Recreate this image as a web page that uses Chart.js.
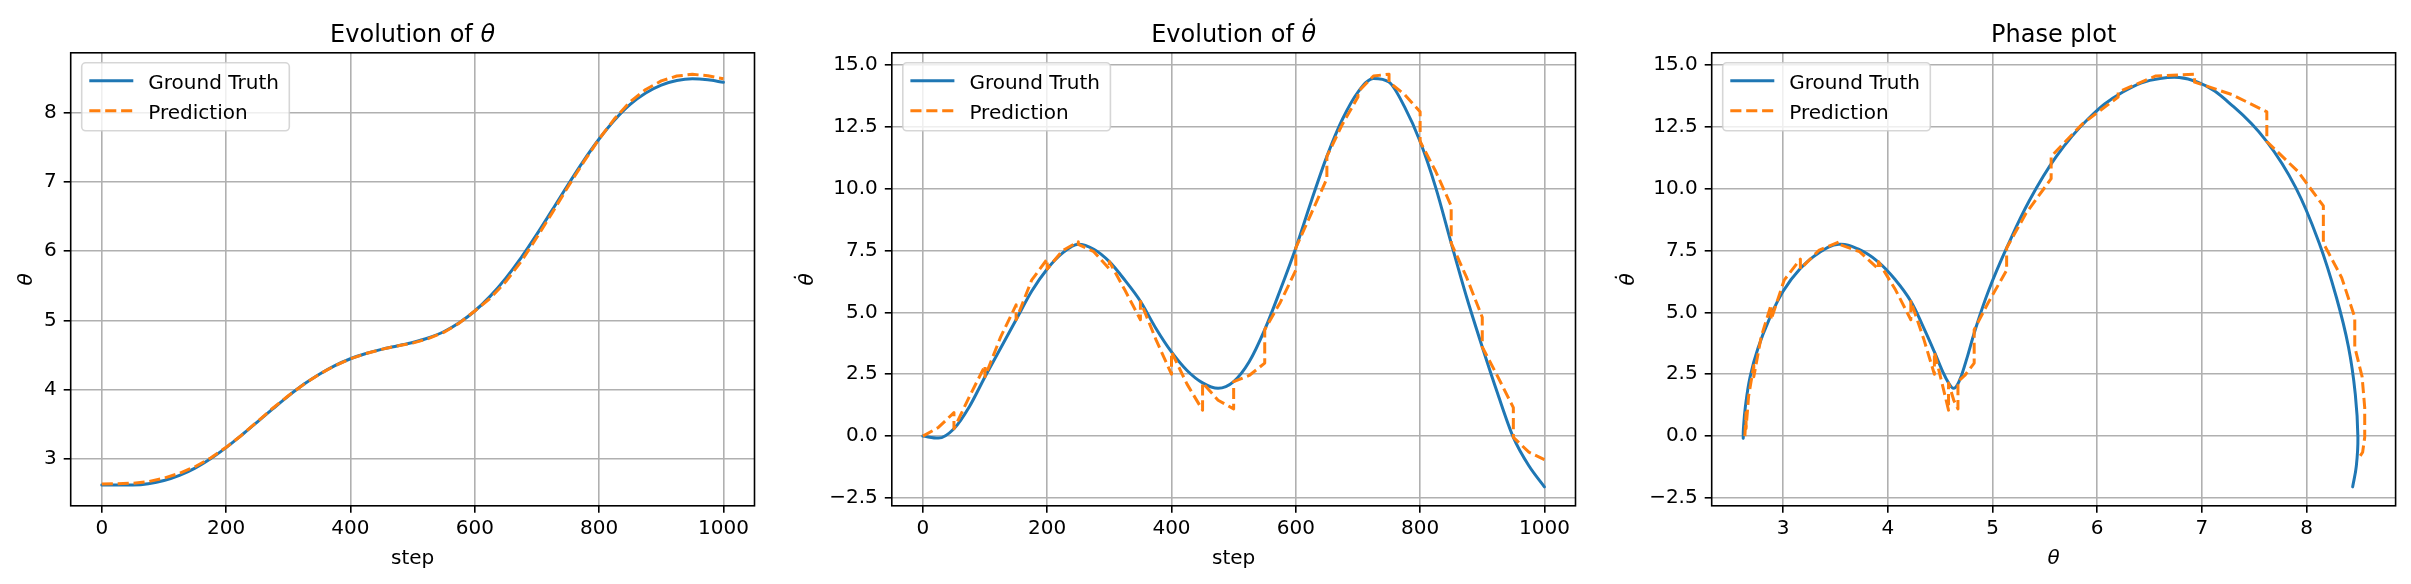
<!DOCTYPE html>
<html>
<head>
<meta charset="utf-8">
<script src="https://cdn.jsdelivr.net/npm/chart.js@4.4.0/dist/chart.umd.min.js"></script>
<style>
  html, body { margin:0; padding:0; background:#fff; overflow:hidden; width:2411px; height:584px; }
  body { position:relative; }
  canvas { position:absolute; top:0; }
</style>
</head>
<body>
<canvas id="c1"></canvas>
<canvas id="c2"></canvas>
<canvas id="c3"></canvas>
<script>
// ---------------- data ----------------
const steps = [0,25,50,75,100,125,150,175,200,225,250,275,300,325,350,375,400,425,450,475,500,
               525,550,575,600,625,650,675,700,725,750,775,800,825,850,875,900,925,950,975,1000];
const thetaTrue = [2.62,2.619,2.621,2.64,2.685,2.76,2.865,3.0,3.16,3.34,3.53,3.72,3.905,4.075,4.22,4.345,4.445,4.52,4.58,4.63,4.68,
                   4.745,4.835,4.965,5.135,5.35,5.61,5.91,6.245,6.6,6.96,7.305,7.62,7.895,8.12,8.285,8.4,8.465,8.49,8.475,8.44];
const thetaDotTrue = [0,-0.08,0.3,1.2,2.4,3.55,4.7,5.85,6.75,7.4,7.75,7.55,7.05,6.3,5.45,4.35,3.4,2.65,2.15,1.93,2.2,
                      3.0,4.3,5.9,7.6,9.5,11.3,12.8,13.9,14.45,14.3,13.3,11.9,10.05,7.8,5.6,3.6,1.7,-0.05,-1.2,-2.05];

const predSteps = [0,25,50, 50,75,100, 100,125,150, 150,175,200, 200,225,250, 250,275,300, 300,325,350,
                   350,375,400, 400,425,450, 450,475,500, 500,525,550, 550,575,600, 600,625,650, 650,675,700,
                   700,725,750, 750,775,800, 800,825,850, 850,875,900, 900,925,950, 950,975,1000];
const predTheta = [2.635,2.639,2.646, 2.646,2.67,2.72, 2.72,2.79,2.885, 2.885,3.01,3.165, 3.165,3.34,3.535,
                   3.535,3.73,3.91, 3.91,4.075,4.22, 4.22,4.345,4.445, 4.445,4.52,4.58, 4.58,4.63,4.67,
                   4.67,4.735,4.825, 4.825,4.96,5.135, 5.135,5.32,5.56, 5.56,5.855,6.2, 6.2,6.56,6.93,
                   6.93,7.285,7.62, 7.62,7.915,8.16, 8.16,8.335,8.46, 8.46,8.53,8.555, 8.555,8.535,8.49];
const predThetaDot = [0,0.35,0.95, 0.3,1.6,2.85, 2.4,4.0,5.3, 4.7,6.3,7.15, 6.75,7.5,7.85, 7.75,7.45,6.75,
                      7.05,5.9,4.7, 5.45,3.9,2.5, 3.4,2.1,1.05, 2.15,1.45,1.1, 2.2,2.45,2.95, 4.3,5.4,6.7,
                      7.6,9.0,10.4, 11.3,12.6,13.7, 13.9,14.55,14.62, 14.3,13.8,13.1, 11.9,10.7,9.3,
                      7.8,6.4,4.8, 3.6,2.4,1.15, -0.05,-0.65,-0.95];

const stepTicks = [0,200,400,600,800,1000];
const stepTickLabels = ['0','200','400','600','800','1000'];
const thetaTicks = [3,4,5,6,7,8];
const thetaTickLabels = ['3','4','5','6','7','8'];
const thetaDotTicks = [-2.5,0,2.5,5,7.5,10,12.5,15];
const thetaDotTickLabels = ['\u22122.5','0.0','2.5','5.0','7.5','10.0','12.5','15.0'];
const seriesNames = ['Ground Truth','Prediction'];
const titles = [['Evolution of ','\u03b8'], ['Evolution of ','\u03b8\u0307'], ['Phase plot','']];

// ---------------- style ----------------
const BLUE = '#1f77b4', ORANGE = '#ff7f0e';
const FONT = '"DejaVu Sans", "Liberation Sans", sans-serif';
const H = 584, AREA_TOP = 52.8, AREA_BOTTOM = 505.8;

function pts(xs, ys) { return xs.map((x, i) => ({x: x, y: ys[i]})); }

const PANELS = [
  { id:'c1', left:0, width:800, areaL:70.7, areaR:754.5, title:titles[0],
    xlabel:{text:'step', italic:false}, ylabel:{text:'\u03b8', baseX:31.6},
    x:{min:-50, max:1050, ticks:stepTicks, labels:stepTickLabels},
    y:{min:2.32, max:8.866, ticks:thetaTicks, labels:thetaTickLabels},
    truth:pts(steps, thetaTrue), pred:pts(predSteps, predTheta), mono:true },
  { id:'c2', left:780, width:830, areaL:891.8, areaR:1575.5, title:titles[1],
    xlabel:{text:'step', italic:false}, ylabel:{text:'\u03b8\u0307', baseX:812.8},
    x:{min:-50, max:1050, ticks:stepTicks, labels:stepTickLabels},
    y:{min:-2.815, max:15.485, ticks:thetaDotTicks, labels:thetaDotTickLabels},
    truth:pts(steps, thetaDotTrue), pred:pts(predSteps, predThetaDot), mono:true },
  { id:'c3', left:1600, width:811, areaL:1711.7, areaR:2395.6, title:titles[2],
    xlabel:{text:'\u03b8', italic:true}, ylabel:{text:'\u03b8\u0307', baseX:1633.6},
    x:{min:2.318, max:8.85, ticks:thetaTicks, labels:thetaTickLabels},
    y:{min:-2.815, max:15.485, ticks:thetaDotTicks, labels:thetaDotTickLabels},
    truth:pts(thetaTrue, thetaDotTrue), pred:pts(predTheta, predThetaDot), mono:false }
];

function roundRect(ctx, x, y, w, h, r) {
  ctx.beginPath();
  ctx.moveTo(x + r, y);
  ctx.lineTo(x + w - r, y); ctx.arcTo(x + w, y, x + w, y + r, r);
  ctx.lineTo(x + w, y + h - r); ctx.arcTo(x + w, y + h, x + w - r, y + h, r);
  ctx.lineTo(x + r, y + h); ctx.arcTo(x, y + h, x, y + h - r, r);
  ctx.lineTo(x, y + r); ctx.arcTo(x, y, x + r, y, r);
  ctx.closePath();
}

function makeDeco(p) {
  return {
    id: 'deco',
    afterDatasetsDraw(chart) {
      const ctx = chart.ctx, a = chart.chartArea;
      ctx.save();
      // frame (spines)
      ctx.strokeStyle = '#000'; ctx.lineWidth = 1.6; ctx.setLineDash([]);
      ctx.strokeRect(a.left, a.top, a.right - a.left, a.bottom - a.top);
      // legend
      ctx.font = '20px ' + FONT;
      const lx = a.left + 11, ly = a.top + 10;
      const lw = 66.6 + ctx.measureText(seriesNames[0]).width + 10.4, lh = 68;
      roundRect(ctx, lx, ly, lw, lh, 4);
      ctx.fillStyle = 'rgba(255,255,255,0.8)'; ctx.fill();
      ctx.strokeStyle = 'rgba(204,204,204,0.8)'; ctx.lineWidth = 1.6; ctx.stroke();
      ctx.lineCap = 'butt'; ctx.lineWidth = 3;
      ctx.strokeStyle = BLUE; ctx.setLineDash([]);
      ctx.beginPath(); ctx.moveTo(lx + 7.6, ly + 18); ctx.lineTo(lx + 51.6, ly + 18); ctx.stroke();
      ctx.strokeStyle = ORANGE; ctx.setLineDash([11.1, 4.8]);
      ctx.beginPath(); ctx.moveTo(lx + 7.6, ly + 48); ctx.lineTo(lx + 51.6, ly + 48); ctx.stroke();
      ctx.setLineDash([]);
      ctx.fillStyle = '#000'; ctx.textBaseline = 'alphabetic'; ctx.textAlign = 'left';
      ctx.fillText(seriesNames[0], lx + 66.6, ly + 26);
      ctx.fillText(seriesNames[1], lx + 66.6, ly + 56);
      ctx.restore();
    },
    afterDraw(chart) {
      const ctx = chart.ctx, a = chart.chartArea;
      const cx = (a.left + a.right) / 2, cy = (a.top + a.bottom) / 2;
      ctx.save();
      ctx.fillStyle = '#000'; ctx.textBaseline = 'alphabetic'; ctx.textAlign = 'left';
      // title
      const f1 = '24px ' + FONT, f2 = 'italic 24px ' + FONT;
      ctx.font = f1; const w1 = ctx.measureText(p.title[0]).width;
      ctx.font = f2; const w2 = p.title[1] ? ctx.measureText(p.title[1]).width : 0;
      const x0 = cx - (w1 + w2) / 2;
      ctx.font = f1; ctx.fillText(p.title[0], x0, 41.5);
      if (p.title[1]) { ctx.font = f2; ctx.fillText(p.title[1], x0 + w1, 41.5); }
      // x label
      ctx.textAlign = 'center';
      ctx.font = (p.xlabel.italic ? 'italic ' : '') + '20px ' + FONT;
      ctx.fillText(p.xlabel.text, cx, 563.8);
      // y label
      ctx.font = 'italic 20px ' + FONT;
      ctx.translate(p.ylabel.baseX - p.left, cy);
      ctx.rotate(-Math.PI / 2);
      ctx.fillText(p.ylabel.text, 0, 0);
      ctx.restore();
    }
  };
}

function axisOpts(ax, horizontal, fitSize) {
  return {
    type: 'linear',
    position: horizontal ? 'bottom' : 'left',
    min: ax.min, max: ax.max,
    afterBuildTicks: (s) => { s.ticks = ax.ticks.map(v => ({value: v})); },
    afterFit: (s) => { if (horizontal) s.height = fitSize; else s.width = fitSize; },
    ticks: {
      autoSkip: false, maxRotation: 0, minRotation: 0,
      padding: horizontal ? 4 : 7,
      color: '#000',
      font: { family: FONT, size: 20 },
      callback: (v, i) => ax.labels[i]
    },
    grid: {
      display: true, drawOnChartArea: true, drawTicks: true,
      color: '#b0b0b0', lineWidth: 1.6,
      tickLength: 7, tickColor: '#000', tickWidth: 1.6
    },
    border: { display: false },
    title: { display: false }
  };
}

PANELS.forEach(p => {
  const cv = document.getElementById(p.id);
  cv.width = p.width; cv.height = H;
  cv.style.left = p.left + 'px';
  cv.style.width = p.width + 'px'; cv.style.height = H + 'px';
  const yW = p.areaL - p.left;
  const rightPad = p.width - (p.areaR - p.left);
  const xH = H - AREA_BOTTOM;
  const truthStyle = p.mono ? { cubicInterpolationMode: 'monotone', tension: 0 } : { tension: 0.4 };
  new Chart(cv, {
    type: 'line',
    data: {
      datasets: [
        { label: seriesNames[1], data: p.pred, borderColor: ORANGE, borderWidth: 3,
          borderDash: [11.1, 4.8], pointRadius: 0, pointHoverRadius: 0, tension: 0, fill: false,
          borderCapStyle: 'butt', borderJoinStyle: 'round' },
        Object.assign({ label: seriesNames[0], data: p.truth, borderColor: BLUE, borderWidth: 3,
          pointRadius: 0, pointHoverRadius: 0, fill: false, borderCapStyle: 'round', borderJoinStyle: 'round' }, truthStyle)
      ]
    },
    options: {
      responsive: false, animation: false, events: [],
      layout: { padding: { top: AREA_TOP, right: rightPad, bottom: 0, left: 0 } },
      plugins: { legend: { display: false }, title: { display: false }, tooltip: { enabled: false } },
      scales: {
        x: axisOpts(p.x, true, xH),
        y: axisOpts(p.y, false, yW)
      }
    },
    plugins: [makeDeco(p)]
  });
});
</script>
</body>
</html>
